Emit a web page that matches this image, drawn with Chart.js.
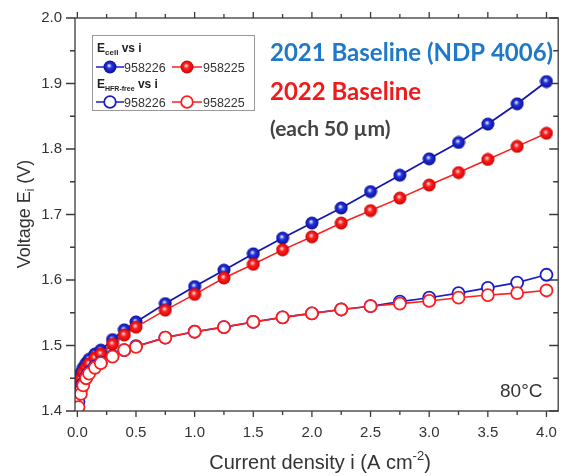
<!DOCTYPE html>
<html>
<head>
<meta charset="utf-8">
<script src="https://cdn.jsdelivr.net/npm/chart.js@4.4.0/dist/chart.umd.min.js"></script>
<style>
html,body{margin:0;padding:0;background:#fff}
#wrap{width:566px;height:476px}
</style>
</head>
<body>
<div id="wrap"><canvas id="chart" width="566" height="476"></canvas></div>
<script>

/* =========================
   DATA
========================= */

let current = [0.01,0.03,0.05,0.075,0.1,0.15,0.2,0.3,0.4,0.5,0.75,1.0,1.25,1.5,1.75,2.0,2.25,2.5,2.75,3.0,3.25,3.5,3.75,4.0]

let cell2021 = [1.445,1.458,1.466,1.473,1.479,1.487,1.493,1.509,1.524,1.536,1.564,1.590,1.615,1.640,1.664,1.687,1.710,1.735,1.760,1.785,1.810,1.838,1.869,1.903]
let cell2022 = [1.432,1.449,1.459,1.466,1.472,1.481,1.487,1.502,1.516,1.528,1.554,1.578,1.603,1.624,1.646,1.666,1.687,1.706,1.725,1.745,1.764,1.784,1.804,1.824]
let hfr2021 = [1.414,1.432,1.442,1.452,1.459,1.468,1.474,1.484,1.493,1.499,1.512,1.521,1.528,1.536,1.543,1.549,1.555,1.560,1.567,1.573,1.580,1.588,1.596,1.608]
let hfr2022 = [1.406,1.426,1.439,1.450,1.457,1.466,1.473,1.483,1.493,1.498,1.512,1.521,1.528,1.536,1.543,1.549,1.555,1.560,1.564,1.568,1.573,1.577,1.580,1.584]

let xTicks = [0,0.5,1.0,1.5,2.0,2.5,3.0,3.5,4.0]
let xMinor = [0.25,0.75,1.25,1.75,2.25,2.75,3.25,3.75]
let yTicks = [1.4,1.5,1.6,1.7,1.8,1.9,2.0]
let yMinor = [1.45,1.55,1.65,1.75,1.85,1.95]

let blue = "#1a1fc4"
let red = "#ff1f1f"

/* =========================
   BALL MARKERS
========================= */

function ball(light,mid,dark){
let c = document.createElement("canvas")
c.width = 14
c.height = 14
let g = c.getContext("2d")
let grd = g.createRadialGradient(6,5.5,0.3,7,7,7)
grd.addColorStop(0,light)
grd.addColorStop(0.35,mid)
grd.addColorStop(1,dark)
g.fillStyle = grd
g.beginPath()
g.arc(7,7,6.5,0,Math.PI*2)
g.fill()
return c
}

let blueBall = ball("#e8ecff","#2233dd","#0a0a90")
let redBall = ball("#ffe0e0","#ff2020","#c80000")

function pts(ys){
return current.map((x,i)=>({x:x,y:ys[i]}))
}

/* =========================
   FRAME, TICKS, TEXT
========================= */

let decor = {
id:"decor",
afterDatasetsDraw(chart){
let ctx = chart.ctx
let a = chart.chartArea
let xs = chart.scales.x
let ys = chart.scales.y

ctx.save()
ctx.strokeStyle = "#3a3a3a"
ctx.lineWidth = 1.3
ctx.strokeRect(a.left,a.top,a.right-a.left,a.bottom-a.top)

ctx.beginPath()
xTicks.forEach(v=>{
let p = xs.getPixelForValue(v)
ctx.moveTo(p,a.bottom); ctx.lineTo(p,a.bottom+6)
ctx.moveTo(p,a.top); ctx.lineTo(p,a.top-6)
})
xMinor.forEach(v=>{
let p = xs.getPixelForValue(v)
ctx.moveTo(p,a.bottom); ctx.lineTo(p,a.bottom+4)
ctx.moveTo(p,a.top); ctx.lineTo(p,a.top-4)
})
yTicks.forEach(v=>{
let p = ys.getPixelForValue(v)
ctx.moveTo(a.left,p); ctx.lineTo(a.left-9,p)
ctx.moveTo(a.right,p); ctx.lineTo(a.right-9,p)
})
yMinor.forEach(v=>{
let p = ys.getPixelForValue(v)
ctx.moveTo(a.left,p); ctx.lineTo(a.left-5,p)
ctx.moveTo(a.right,p); ctx.lineTo(a.right-5,p)
})
ctx.stroke()

/* axis titles */
ctx.fillStyle = "#333"
ctx.textBaseline = "alphabetic"
ctx.font = "20px 'Liberation Sans'"
let t1 = "Current density i (A cm"
let w1 = ctx.measureText(t1).width
ctx.font = "13px 'Liberation Sans'"
let w2 = ctx.measureText("-2").width
ctx.font = "20px 'Liberation Sans'"
let w3 = ctx.measureText(")").width
let sx = 320-(w1+w2+w3)/2
ctx.textAlign = "left"
ctx.fillText(t1,sx,469)
ctx.font = "13px 'Liberation Sans'"
ctx.fillText("-2",sx+w1,460)
ctx.font = "20px 'Liberation Sans'"
ctx.fillText(")",sx+w1+w2,469)

ctx.save()
ctx.translate(30,214)
ctx.rotate(-Math.PI/2)
ctx.font = "18px 'Liberation Sans'"
let v1 = "Voltage E"
let vw1 = ctx.measureText(v1).width
ctx.font = "12px 'Liberation Sans'"
let vw2 = ctx.measureText("i").width
ctx.font = "18px 'Liberation Sans'"
let vw3 = ctx.measureText(" (V)").width
let vx = -(vw1+vw2+vw3)/2
ctx.fillText(v1,vx,0)
ctx.font = "12px 'Liberation Sans'"
ctx.fillText("i",vx+vw1,4)
ctx.font = "18px 'Liberation Sans'"
ctx.fillText(" (V)",vx+vw1+vw2,0)
ctx.restore()

/* annotations */
ctx.textAlign = "left"
ctx.font = "bold 24px Lato"
ctx.fillStyle = "#1f78c8"
ctx.fillText("2021 Baseline (NDP 4006)",270,61)
ctx.fillStyle = "#f01a1a"
ctx.fillText("2022 Baseline",270,100)
ctx.font = "bold 21px Lato"
ctx.fillStyle = "#444"
ctx.fillText("(each 50 \u00b5m)",270,136)
ctx.font = "19px 'Liberation Sans'"
ctx.fillStyle = "#333"
ctx.fillText("80\u00b0C",500,397)

/* legend */
ctx.strokeStyle = "#999"
ctx.lineWidth = 1
ctx.fillStyle = "#fff"
ctx.fillRect(92.5,35.5,162,75)
ctx.strokeRect(92.5,35.5,162,75)

ctx.fillStyle = "#222"
ctx.font = "bold 12px 'Liberation Sans'"
ctx.fillText("E",97,52)
let ew = ctx.measureText("E").width
ctx.font = "bold 8px 'Liberation Sans'"
ctx.fillText("cell",97+ew,55)
let cw = ctx.measureText("cell").width
ctx.font = "bold 12px 'Liberation Sans'"
ctx.fillText(" vs i",97+ew+cw,52)

ctx.fillText("E",97,88)
ctx.font = "bold 7px 'Liberation Sans'"
ctx.fillText("HFR-free",97+ew,91)
let hw = ctx.measureText("HFR-free").width
ctx.font = "bold 12px 'Liberation Sans'"
ctx.fillText(" vs i",97+ew+hw,88)

ctx.lineWidth = 1.5
ctx.strokeStyle = blue
ctx.beginPath(); ctx.moveTo(96,67); ctx.lineTo(124,67); ctx.stroke()
ctx.strokeStyle = red
ctx.beginPath(); ctx.moveTo(172,67); ctx.lineTo(202,67); ctx.stroke()
ctx.drawImage(blueBall,103,60)
ctx.drawImage(redBall,180,60)

ctx.strokeStyle = blue
ctx.beginPath(); ctx.moveTo(96,102); ctx.lineTo(124,102); ctx.stroke()
ctx.strokeStyle = red
ctx.beginPath(); ctx.moveTo(172,102); ctx.lineTo(202,102); ctx.stroke()
ctx.fillStyle = "#fff"
ctx.lineWidth = 1.8
ctx.strokeStyle = blue
ctx.beginPath(); ctx.arc(110,102,5.8,0,Math.PI*2); ctx.fill(); ctx.stroke()
ctx.strokeStyle = red
ctx.beginPath(); ctx.arc(187,102,5.8,0,Math.PI*2); ctx.fill(); ctx.stroke()

ctx.fillStyle = "#333"
ctx.font = "12.5px 'Liberation Sans'"
ctx.fillText("958226",124,72)
ctx.fillText("958225",203,72)
ctx.fillText("958226",124,107)
ctx.fillText("958225",203,107)

ctx.restore()
}
}

/* =========================
   CHART
========================= */

let ctx = document.getElementById("chart").getContext("2d")

let chart = new Chart(ctx,{
type:"line",
data:{
datasets:[
{
label:"HFR-free 958225",
data:pts(hfr2022),
borderColor:red,
backgroundColor:"#fff",
borderWidth:1.6,
pointStyle:"circle",
pointRadius:6,
pointBorderWidth:1.8,
pointBackgroundColor:"#fff",
pointBorderColor:red,
order:1
},
{
label:"HFR-free 958226",
data:pts(hfr2021),
borderColor:blue,
backgroundColor:"#fff",
borderWidth:1.6,
pointStyle:"circle",
pointRadius:6,
pointBorderWidth:1.8,
pointBackgroundColor:"#fff",
pointBorderColor:blue,
order:2
},
{
label:"Ecell 958225",
data:pts(cell2022),
borderColor:red,
borderWidth:1.6,
pointStyle:redBall,
order:3
},
{
label:"Ecell 958226",
data:pts(cell2021),
borderColor:"#1515b0",
borderWidth:1.8,
pointStyle:blueBall,
order:4
}
]
},
options:{
responsive:false,
animation:false,
devicePixelRatio:1,
layout:{padding:{top:18,right:1,left:0,bottom:0}},
plugins:{
legend:{display:false},
tooltip:{enabled:false}
},
elements:{line:{tension:0}},
scales:{
x:{
type:"linear",
min:-0.02,
max:4.1,
afterBuildTicks(s){ s.ticks = xTicks.map(v=>({value:v})) },
afterFit(s){ s.height = 65 },
grid:{display:false,drawTicks:true,tickLength:6},
border:{display:false},
ticks:{
padding:7,
color:"#333",
font:{family:"'Liberation Sans'",size:15},
maxRotation:0,
callback:v=>v.toFixed(1)
}
},
y:{
type:"linear",
min:1.4,
max:2.0,
afterBuildTicks(s){ s.ticks = yTicks.map(v=>({value:v})) },
afterFit(s){ s.width = 75 },
grid:{display:false,drawTicks:true,tickLength:9},
border:{display:false},
ticks:{
padding:4,
color:"#333",
font:{family:"'Liberation Sans'",size:15},
callback:v=>v.toFixed(1)
}
}
}
},
plugins:[decor]
})

</script>
</body>
</html>
